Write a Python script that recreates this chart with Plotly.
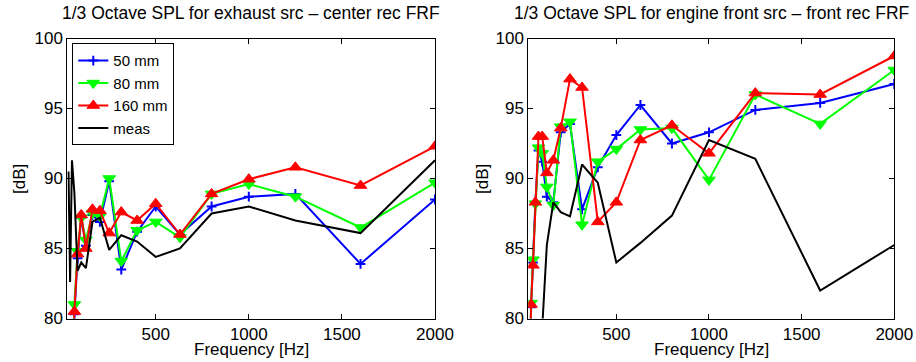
import plotly.graph_objects as go

freqs = [25, 31.5, 40, 50, 63, 80, 100, 125, 160, 200, 250, 315, 400, 500, 630, 800, 1000, 1250, 1600, 2000]

# Left: exhaust src - center rec FRF
ex_50 = [None, None, None, 76.0, 80.3, 84.3, 87.2, 85.2, 87.4, 86.9, 89.8, 83.5, 86.2, 88.0, 86.0, 88.0, 88.7, 88.9, 83.9, 88.5]
ex_80 = [None, None, None, 76.0, 81.0, 84.8, 87.2, 85.6, 87.5, 87.3, 90.0, 84.1, 86.3, 86.9, 85.8, 88.9, 89.6, 88.7, 86.5, 89.7]
ex_160 = [None, None, None, 76.0, 80.5, 84.6, 87.4, 85.0, 87.8, 87.7, 86.1, 87.6, 87.0, 88.2, 86.0, 88.9, 89.95, 90.8, 89.5, 92.3]
ex_meas = [None, 90.5, 82.6, 91.3, 89.0, 83.4, 84.0, 83.6, 86.9, 87.2, 84.9, 85.95, 85.5, 84.4, 85.0, 87.5, 88.0, 87.0, 86.1, 91.3]

# Right: engine front src - front rec FRF
en_50 = [None, 75.0, 80.8, 84.0, 88.3, 92.0, 91.2, 88.7, 88.3, 93.3, 93.9, 87.8, 90.8, 93.1, 95.25, 92.5, 93.3, 94.9, 95.4, 96.75]
en_80 = [None, 75.0, 81.1, 84.2, 88.2, 92.2, 91.8, 89.4, 88.1, 93.7, 94.05, 86.7, 91.2, 92.1, 93.5, 93.6, 89.9, 96.0, 93.9, 97.75]
en_160 = [None, 75.0, 81.0, 83.8, 88.3, 93.0, 93.0, 90.4, 91.3, 93.6, 97.1, 96.5, 86.9, 88.3, 92.75, 93.8, 91.8, 96.1, 96.0, 98.75]
en_meas = [None, None, None, None, None, None, 79.3, 85.25, 88.3, 87.6, 87.3, 91.0, 89.7, 84.0, 85.4, 87.35, 92.75, 91.4, 82.0, 85.25]

titles = ["1/3 Octave SPL for exhaust src \u2013 center rec FRF",
          "1/3 Octave SPL for engine front src \u2013 front rec FRF"]
x_ticks = [500, 1000, 1500, 2000]
y_ticks = [80, 85, 90, 95, 100]
names = ["50 mm", "80 mm", "160 mm", "meas"]

W, H = 916, 362
FONT = "Liberation Sans, Arial, sans-serif"
FS = 17

fig = go.Figure()

styles = [
    dict(color="#0000ff", symbol="cross-thin", size=7, lw=2),
    dict(color="#00ff00", symbol="triangle-down", size=11, lw=1),
    dict(color="#ff0000", symbol="triangle-up", size=11, lw=1),
]

for pi, (series, xa, ya) in enumerate([
        ([ex_50, ex_80, ex_160, ex_meas], "x", "y"),
        ([en_50, en_80, en_160, en_meas], "x2", "y2")]):
    for si, ys in enumerate(series):
        if si < 3:
            st = styles[si]
            fig.add_trace(go.Scatter(
                x=freqs, y=ys, mode="lines+markers", name=names[si],
                line=dict(color=st["color"], width=2),
                marker=dict(symbol=st["symbol"], size=st["size"], color=st["color"],
                            line=dict(color=st["color"], width=st["lw"])),
                xaxis=xa, yaxis=ya, showlegend=(pi == 0)))
        else:
            fig.add_trace(go.Scatter(
                x=freqs, y=ys, mode="lines", name=names[si],
                line=dict(color="black", width=2),
                xaxis=xa, yaxis=ya, showlegend=(pi == 0)))

L = [67.3, 435.0]
R = [528.3, 894.3]
TOP, BOT = 38.5, 318.5

axis_common = dict(showgrid=False, zeroline=False, showline=True, linecolor="black",
                   linewidth=1, mirror="ticks", ticks="inside", ticklen=5,
                   tickcolor="black", automargin=False,
                   tickfont=dict(family=FONT, size=FS, color="black"))

fig.update_layout(
    template="none",
    width=W, height=H, margin=dict(l=0, r=0, t=0, b=0, pad=0),
    paper_bgcolor="white", plot_bgcolor="white",
    font=dict(family=FONT, size=FS, color="black"),
    xaxis=dict(domain=[L[0] / W, L[1] / W], range=[25, 2000], tickvals=x_ticks,
               anchor="y", **axis_common),
    yaxis=dict(domain=[1 - BOT / H, 1 - TOP / H], range=[80, 100], tickvals=y_ticks,
               anchor="x", **axis_common),
    xaxis2=dict(domain=[R[0] / W, R[1] / W], range=[25, 2000], tickvals=x_ticks,
                anchor="y2", **axis_common),
    yaxis2=dict(domain=[1 - BOT / H, 1 - TOP / H], range=[80, 100], tickvals=y_ticks,
                anchor="x2", **axis_common),
    legend=dict(x=72.3 / W, y=1 - 43.3 / H, xanchor="left", yanchor="top",
                bgcolor="white", bordercolor="black", borderwidth=1,
                font=dict(family=FONT, size=15, color="black"),
                tracegroupgap=0),
    showlegend=True,
)

ann = []
for (a, b), t in zip([L, R], titles):
    cx = (a + b) / 2 / W
    ann.append(dict(text=t, x=cx, y=1 - 13 / H, xref="paper", yref="paper",
                    xanchor="center", yanchor="middle", showarrow=False,
                    font=dict(family=FONT, size=17.5, color="black")))
    ann.append(dict(text="Frequency [Hz]", x=cx, y=1 - 349 / H, xref="paper", yref="paper",
                    xanchor="center", yanchor="middle", showarrow=False,
                    font=dict(family=FONT, size=FS, color="black")))
for xpx in [19, 482]:
    ann.append(dict(text="[dB]", x=xpx / W, y=1 - 179 / H, xref="paper", yref="paper",
                    xanchor="center", yanchor="middle", showarrow=False, textangle=-90,
                    font=dict(family=FONT, size=FS, color="black")))
fig.update_layout(annotations=ann)

fig.write_html("out.html")
